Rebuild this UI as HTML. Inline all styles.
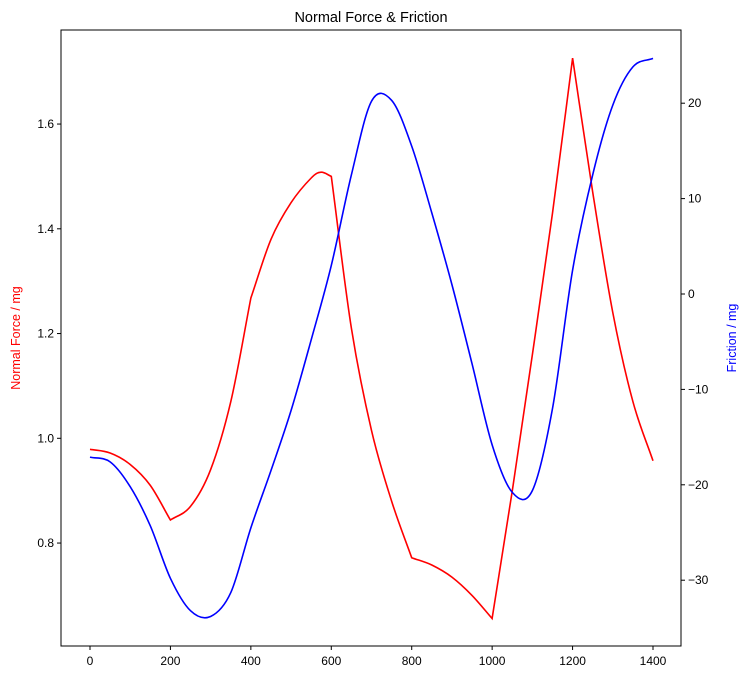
<!DOCTYPE html>
<html><head><meta charset="utf-8"><style>
body{margin:0;background:#fff;font-family:"Liberation Sans","DejaVu Sans",sans-serif}
svg text{font-family:"Liberation Sans","DejaVu Sans",sans-serif}
</style></head><body>
<svg id="chart" width="750" height="680" xmlns="http://www.w3.org/2000/svg">
<text x="371" y="22" text-anchor="middle" font-size="14.5">Normal Force &amp; Friction</text>
<g id="axes"></g>
<rect x="61" y="30" width="620" height="616" fill="none" stroke="#000" stroke-width="1"/>
<text transform="translate(20,338) rotate(-90)" text-anchor="middle" font-size="12.5" fill="red">Normal Force / mg</text>
<text transform="translate(736,338) rotate(-90)" text-anchor="middle" font-size="12.5" fill="blue">Friction / mg</text>
</svg>
<script>
const xTicks=[0,200,400,600,800,1000,1200,1400];
const leftTicks=[0.8,1.0,1.2,1.4,1.6];
const rightTicks=[-30,-20,-10,0,10,20];
const redX=[0,50,100,150,200,250,300,350,400,450,500,550,575,600,650,700,750,800,850,900,950,1000,1050,1100,1150,1200,1250,1300,1350,1400];
const redY=[0.979,0.972,0.950,0.910,0.844,0.870,0.940,1.07,1.268,1.38,1.45,1.497,1.508,1.50,1.21,1.015,0.88,0.772,0.758,0.735,0.70,0.656,0.90,1.16,1.43,1.726,1.47,1.24,1.07,0.957];
const redKinks=[200,400,600,800,1000,1200];
const blueX=[0,50,100,150,200,250,300,350,400,450,500,550,600,650,700,750,800,850,900,950,1000,1050,1100,1150,1200,1250,1300,1350,1400];
const blueY=[-17.1,-17.6,-20.2,-24.3,-29.8,-33.2,-33.8,-31.3,-24.5,-18.5,-12.2,-4.8,3,12.5,20.2,20.3,15.5,8.5,1,-7.3,-15.8,-20.8,-20.6,-12,2.5,12.5,19.8,23.8,24.7];
const sx=v=>90+v*(563/1400);
const syL=v=>438.3-(v-1.0)*523.75;
const syR=v=>294-v*9.54;
const NS="http://www.w3.org/2000/svg";
const g=document.getElementById('axes');
function mk(t,a){const e=document.createElementNS(NS,t);for(const k in a)e.setAttribute(k,a[k]);g.appendChild(e);return e;}
xTicks.forEach(v=>{const x=sx(v);
const l=mk('line',{x1:x,x2:x,y1:646,y2:650,stroke:'#000'});


const t=mk('text',{x:x,y:665,'text-anchor':'middle','font-size':'12'});t.textContent=v;

});
leftTicks.forEach(v=>{const y=syL(v);
const l=mk('line',{x1:57,x2:61,y1:y,y2:y,stroke:'#000'});


const t=mk('text',{x:54,y:y+4,'text-anchor':'end','font-size':'12'});t.textContent=v.toFixed(1);

});
rightTicks.forEach(v=>{const y=syR(v);
const l=mk('line',{x1:681,x2:685,y1:y,y2:y,stroke:'#000'});


const t=mk('text',{x:688,y:y+4,'text-anchor':'start','font-size':'12'});t.textContent=v<0?'\u2212'+(-v):v;

});
function spline(pts,breaks){
  let d='M'+pts[0][0].toFixed(1)+','+pts[0][1].toFixed(1);
  const n=pts.length;
  for(let i=0;i<n-1;i++){
    const p1=pts[i],p2=pts[i+1];
    const p0=(i>0&&!breaks[i])?pts[i-1]:p1;
    const p3=(i+2<n&&!breaks[i+1])?pts[i+2]:p2;
    const k1=(p0===p1)?[(p2[0]-p1[0])/3,(p2[1]-p1[1])/3]:[(p2[0]-p0[0])/6,(p2[1]-p0[1])/6];
    const k2=(p3===p2)?[(p2[0]-p1[0])/3,(p2[1]-p1[1])/3]:[(p3[0]-p1[0])/6,(p3[1]-p1[1])/6];
    d+='C'+(p1[0]+k1[0]).toFixed(1)+','+(p1[1]+k1[1]).toFixed(1)+' '+(p2[0]-k2[0]).toFixed(1)+','+(p2[1]-k2[1]).toFixed(1)+' '+p2[0].toFixed(1)+','+p2[1].toFixed(1);
  }
  return d;
}
const rpts=redX.map((x,i)=>[sx(x),syL(redY[i])]);
const rbr=redX.map(x=>redKinks.includes(x));
const rp=mk('path',{d:spline(rpts,rbr),fill:'none',stroke:'red','stroke-width':1.6});


const bpts=blueX.map((x,i)=>[sx(x),syR(blueY[i])]);
const bp=mk('path',{d:spline(bpts,blueX.map(()=>false)),fill:'none',stroke:'blue','stroke-width':1.6});


</script>
</body></html>
